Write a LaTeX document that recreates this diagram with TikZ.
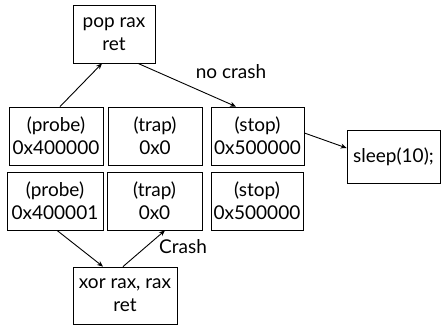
\documentclass[tikz,border=0pt]{standalone}
\usepackage{fontspec}
\setmainfont{Lato}
\usetikzlibrary{arrows.meta}
\begin{document}
\begin{tikzpicture}[x=1pt,y=-1pt,
  box/.style={draw,line width=0.8pt,align=center,inner sep=0pt,font=\fontsize{19}{23}\selectfont},
  lbl/.style={font=\fontsize{19}{23}\selectfont,inner sep=0pt},
  arr/.style={line width=0.9pt,-{Stealth[length=6pt,width=5pt]}}]
\useasboundingbox (0,0) rectangle (442,326);
\node[box,minimum width=82pt,minimum height=58pt] (pop) at (114,34) {pop rax\\ret};
\node[box,minimum width=94pt,minimum height=58pt] (probe1) at (56,136) {(probe)\\0x400000};
\node[box,minimum width=94pt,minimum height=58pt] (trap1) at (155,136) {(trap)\\0x0};
\node[box,minimum width=93pt,minimum height=58pt] (stop1) at (257.5,136) {(stop)\\0x500000};
\node[box,minimum width=96pt,minimum height=58pt] (probe2) at (55,201) {(probe)\\0x400001};
\node[box,minimum width=95pt,minimum height=58pt] (trap2) at (154.5,201) {(trap)\\0x0};
\node[box,minimum width=92pt,minimum height=58pt] (stop2) at (257,201) {(stop)\\0x500000};
\node[box,minimum width=104pt,minimum height=57pt] (xor) at (125,295.5) {xor rax, rax\\ret};
\node[box,minimum width=93pt,minimum height=53pt] (sleep) at (393.5,156.5) {sleep(10);};
\node[lbl] (nocrash) at (231,72) {no crash};
\node[lbl] (crash) at (183,247) {Crash};
\draw[arr] ([xshift=4pt]probe1.north) -- ([xshift=-12pt]pop.south);
\draw[arr] ([xshift=24pt]pop.south) -- ([xshift=-21.5pt]stop1.north);
\draw[arr] ([yshift=3pt]stop1.east) -- ([yshift=8.5pt]sleep.west);
\draw[arr] ([xshift=2pt]probe2.south) -- ([xshift=-22pt]xor.north);
\draw[arr] ([xshift=-2pt]xor.north) -- ([xshift=10.5pt]trap2.south);
\end{tikzpicture}
\end{document}
